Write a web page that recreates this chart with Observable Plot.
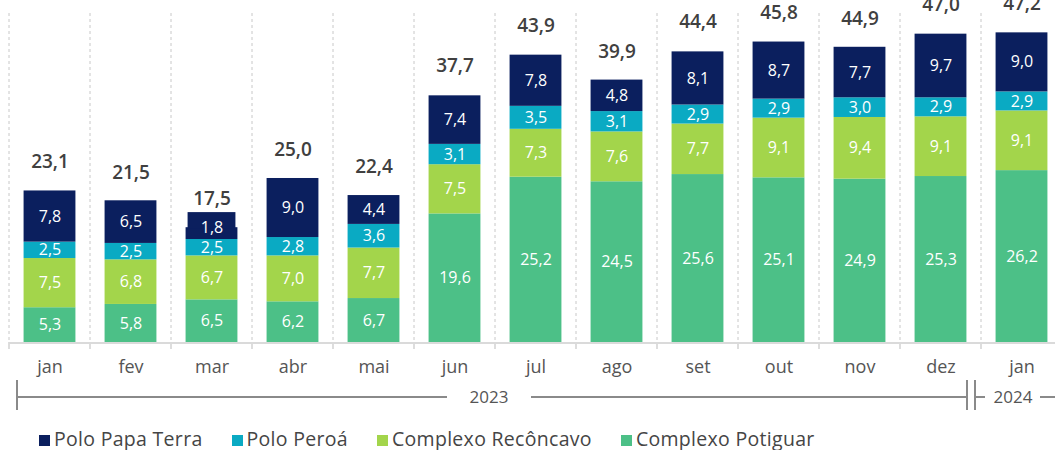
<!DOCTYPE html>
<html>
<head>
<meta charset="utf-8">
<script src="https://cdn.jsdelivr.net/npm/d3@7"></script>
<script src="https://cdn.jsdelivr.net/npm/@observablehq/plot@0.6"></script>
<style>
  html, body { margin: 0; padding: 0; background: #fff; overflow: hidden; width: 1055px; height: 450px; }
  #chart { position: relative; width: 1055px; height: 450px; overflow: hidden; }
  #chart svg { display: block; max-width: none !important; width: 1062px; height: 428px; }
  .legend { position: absolute; left: 39px; top: 429px; display: flex; font-family: "Open Sans", sans-serif; font-size: 19.5px; letter-spacing: 0.3px; line-height: 20px; color: #454545; white-space: nowrap; }
  .legend .item { display: flex; align-items: center; margin-right: 29px; }
  .legend .sw { width: 11px; height: 11px; margin-right: 4px; position: relative; top: 1px; }
</style>
</head>
<body>
<div id="chart"></div>
<script>
// ---- data ----
const months = ["jan","fev","mar","abr","mai","jun","jul","ago","set","out","nov","dez","jan"];
const years  = [2023,2023,2023,2023,2023,2023,2023,2023,2023,2023,2023,2023,2024];
const complexoPotiguar  = [5.3, 5.8, 6.5, 6.2, 6.7, 19.6, 25.2, 24.5, 25.6, 25.1, 24.9, 25.3, 26.2];
const complexoReconcavo = [7.5, 6.8, 6.7, 7.0, 7.7, 7.5, 7.3, 7.6, 7.7, 9.1, 9.4, 9.1, 9.1];
const poloPeroa         = [2.5, 2.5, 2.5, 2.8, 3.6, 3.1, 3.5, 3.1, 2.9, 2.9, 3.0, 2.9, 2.9];
const poloPapaTerra     = [7.8, 6.5, 1.8, 9.0, 4.4, 7.4, 7.8, 4.8, 8.1, 8.7, 7.7, 9.7, 9.0];
const totals            = [23.1, 21.5, 17.5, 25.0, 22.4, 37.7, 43.9, 39.9, 44.4, 45.8, 44.9, 47.0, 47.2];
const seriesNames  = ["Polo Papa Terra", "Polo Peroá", "Complexo Recôncavo", "Complexo Potiguar"];
const seriesColors = ["#0b1f5e", "#0aaac3", "#a3d54b", "#4cc087"];
const yearLabels = ["2023", "2024"];

// ---- build table ----
const keys = months.map((m, i) => `${m} ${years[i]}`);
const seriesValues = {
  "Complexo Potiguar": complexoPotiguar,
  "Complexo Recôncavo": complexoReconcavo,
  "Polo Peroá": poloPeroa,
  "Polo Papa Terra": poloPapaTerra
};
const stackOrder = ["Complexo Potiguar", "Complexo Recôncavo", "Polo Peroá", "Polo Papa Terra"];
const rows = [];
keys.forEach((k, i) => {
  stackOrder.forEach(s => rows.push({key: k, series: s, value: seriesValues[s][i]}));
});
const totalRows = keys.map((k, i) => ({key: k, total: totals[i],
  top: stackOrder.reduce((a, s) => a + seriesValues[s][i], 0)}));
const smallRows = rows.filter(d => d.series === "Polo Papa Terra" && d.value < 2)
  .map(d => ({...d, top: totalRows.find(t => t.key === d.key).top}));

const fmt = v => v.toFixed(1).replace(".", ",");
const PAD_IN = 0.36, PAD_OUT = 0.18;
const navy = seriesColors[0];

const plot = Plot.plot({
  width: 1062,
  height: 428,
  marginLeft: 9,
  marginRight: 0,
  marginTop: 13,
  marginBottom: 86,
  style: {fontFamily: "Open Sans, sans-serif", color: "#555", background: "transparent", overflow: "visible"},
  x: {type: "band", domain: keys, paddingInner: PAD_IN, paddingOuter: PAD_OUT, round: false, label: null},
  y: {domain: [0, 50.15], axis: null},
  color: {domain: seriesNames, range: seriesColors},
  marks: [
    Plot.barY(rows, Plot.stackY({x: "key", y: "value", z: "series", fill: "series", order: stackOrder})),
    Plot.barY(smallRows, {x: "key", y1: d => d.top - 0.2, y2: d => d.top + 2.3, fill: navy, insetLeft: 2, insetRight: 2}),
    Plot.text(rows, Plot.stackY({x: "key", y: "value", z: "series", order: stackOrder,
      text: d => d.value >= 2 ? fmt(d.value) : "", fill: "white", fontSize: 16, fontWeight: 500})),
    Plot.text(smallRows, {x: "key", y: "top", text: d => fmt(d.value), fill: "white", fontSize: 16, fontWeight: 500}),
    Plot.text(totalRows, {x: "key", y: "total", text: d => fmt(d.total), dy: -29, fill: "#404040", fontSize: 19, fontWeight: 600}),
    Plot.axisX({tickSize: 0, tickPadding: 18, fontSize: 18, tickFormat: k => k.split(" ")[0], label: null})
  ]
});

document.getElementById("chart").appendChild(plot);

// ---- decorations using Plot's x scale ----
const xs = plot.scale("x");
const bw = xs.bandwidth;
const step = bw / (1 - PAD_IN);
const half = (step - bw) / 2;
const bounds = keys.map(k => xs.apply(k) - half);
bounds.push(xs.apply(keys[keys.length - 1]) + bw + half);
const y0 = 342, yTop = 13;

const svg = d3.select(plot);
const g = svg.insert("g", ":first-child");
bounds.forEach(b => {
  g.append("line").attr("x1", b).attr("x2", b).attr("y1", yTop).attr("y2", y0)
    .attr("stroke", "#c8c8c8").attr("stroke-dasharray", "3,3").attr("stroke-width", 1);
  g.append("line").attr("x1", b).attr("x2", b).attr("y1", y0).attr("y2", y0 + 7)
    .attr("stroke", "#d2d2d2").attr("stroke-width", 1.5);
});
g.append("line").attr("x1", bounds[0]).attr("x2", bounds[bounds.length - 1]).attr("y1", y0 + 1).attr("y2", y0 + 1)
  .attr("stroke", "#dadada").attr("stroke-width", 2);

// year bracket
const yb = 397, gray = "#8a8a8a";
const dezEnd = bounds[12];
const xStart = bounds[0] + 8;
const xEnd23 = dezEnd - 14;
const xBar2 = dezEnd - 6;
const mid23 = (xStart + xEnd23) / 2 - 3;
const x24 = xBar2 + 38;
const bg = svg.append("g").attr("stroke", gray).attr("stroke-width", 2);
bg.append("line").attr("x1", xStart).attr("x2", mid23 - 42).attr("y1", yb).attr("y2", yb);
bg.append("line").attr("x1", mid23 + 42).attr("x2", xEnd23).attr("y1", yb).attr("y2", yb);
bg.append("line").attr("x1", xStart).attr("x2", xStart).attr("y1", yb - 17).attr("y2", yb + 13);
bg.append("line").attr("x1", xEnd23).attr("x2", xEnd23).attr("y1", yb - 17).attr("y2", yb + 13);
bg.append("line").attr("x1", xBar2).attr("x2", xBar2).attr("y1", yb - 17).attr("y2", yb + 13);
bg.append("line").attr("x1", xBar2).attr("x2", xBar2 + 10).attr("y1", yb).attr("y2", yb);
bg.append("line").attr("x1", x24 + 27).attr("x2", x24 + 60).attr("y1", yb).attr("y2", yb);
const tg = svg.append("g").attr("font-family", "Open Sans, sans-serif").attr("font-size", 17).attr("fill", "#555").attr("text-anchor", "middle");
tg.append("text").attr("x", mid23).attr("y", yb + 6).text(yearLabels[0]);
tg.append("text").attr("x", x24).attr("y", yb + 6).text(yearLabels[1]);

// legend (drawn below the SVG)
const legend = d3.select("#chart").append("div").attr("class", "legend");
seriesNames.forEach((s, i) => {
  const it = legend.append("div").attr("class", "item");
  it.append("div").attr("class", "sw").style("background", seriesColors[i]);
  it.append("span").text(s);
});
</script>
</body>
</html>
